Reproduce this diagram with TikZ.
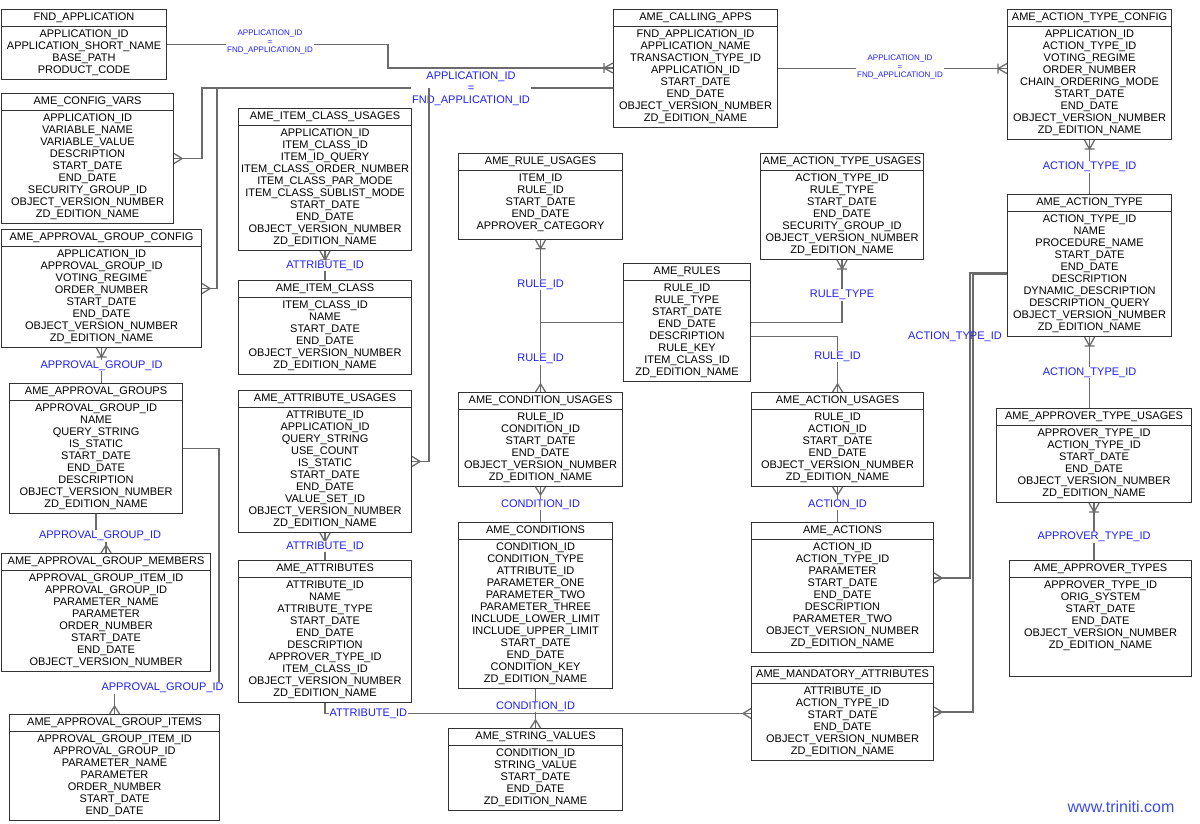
\documentclass[tikz,border=0pt]{standalone}
\usepackage{fontspec}
\setmainfont{Liberation Sans}
\usepackage{xcolor}
\usepackage{tikz}
\usetikzlibrary{arrows.meta, shapes.multipart}
\definecolor{boxline}  {HTML}{333333}
\definecolor{linkgray} {HTML}{6B6B6B}
\definecolor{fkblue}   {HTML}{1F1FF5}
\definecolor{urlblue}  {HTML}{3A4CF2}
\newcommand{\tblfont}{\fontsize{11}{12}\selectfont}
\newcommand{\eqfont}{\fontsize{8}{8.7}\selectfont}
\hyphenpenalty=10000

% crow's foot (many) and crow's foot with bar (one or many)
\pgfdeclarearrow{
  name = Crow,
  parameters = {\the\pgfarrowlength,\the\pgfarrowwidth},
  setup code = {
    \pgfarrowssettipend{0pt}
    \pgfarrowssetlineend{0pt}
    \pgfarrowssetbackend{-\pgfarrowlength}
    \pgfarrowshullpoint{0pt}{.5\pgfarrowwidth}
    \pgfarrowshullpoint{0pt}{-.5\pgfarrowwidth}
    \pgfarrowshullpoint{-\pgfarrowlength}{0pt}
    \pgfarrowssavethe\pgfarrowlength
    \pgfarrowssavethe\pgfarrowwidth
  },
  drawing code = {
    \pgfsetdash{}{0pt}
    \pgfpathmoveto{\pgfpoint{0pt}{.5\pgfarrowwidth}}
    \pgfpathlineto{\pgfpoint{-\pgfarrowlength}{0pt}}
    \pgfpathlineto{\pgfpoint{0pt}{-.5\pgfarrowwidth}}
    \pgfusepathqstroke
  },
  defaults = {length = 8pt, width = 10pt}
}
\pgfdeclarearrow{
  name = CrowBar,
  parameters = {\the\pgfarrowlength,\the\pgfarrowwidth},
  setup code = {
    \pgfarrowssettipend{0pt}
    \pgfarrowssetlineend{0pt}
    \pgfarrowssetbackend{-\pgfarrowlength}
    \pgfarrowshullpoint{0pt}{.5\pgfarrowwidth}
    \pgfarrowshullpoint{0pt}{-.5\pgfarrowwidth}
    \pgfarrowshullpoint{-\pgfarrowlength}{.5\pgfarrowwidth}
    \pgfarrowshullpoint{-\pgfarrowlength}{-.5\pgfarrowwidth}
    \pgfarrowssavethe\pgfarrowlength
    \pgfarrowssavethe\pgfarrowwidth
  },
  drawing code = {
    \pgfsetdash{}{0pt}
    \pgfpathmoveto{\pgfpoint{0pt}{.5\pgfarrowwidth}}
    \pgfpathlineto{\pgfpoint{-\pgfarrowlength}{0pt}}
    \pgfpathlineto{\pgfpoint{0pt}{-.5\pgfarrowwidth}}
    \pgfpathmoveto{\pgfpoint{-\pgfarrowlength}{.5\pgfarrowwidth}}
    \pgfpathlineto{\pgfpoint{-\pgfarrowlength}{-.5\pgfarrowwidth}}
    \pgfusepathqstroke
  },
  defaults = {length = 8pt, width = 10pt}
}

\begin{document}
\begin{tikzpicture}[
    x=1pt, y=-1pt,
    entity/.style={rectangle split, rectangle split parts=2, draw=boxline,
                   line width=1.1pt, anchor=north west, align=center,
                   inner xsep=0pt, inner ysep=3pt, font=\tblfont, text=black},
    conn/.style={draw=linkgray, line width=1.3pt},
    tomany/.style={conn, -{Crow[length=8pt, width=10pt]}},
    tomanybar/.style={conn, -{CrowBar[length=9pt, width=10pt]}},
    fk/.style={text=fkblue, fill=white, inner sep=1pt, font=\tblfont},
    appeq/.style={text=fkblue, fill=white, align=center, inner sep=1pt,
                  font=\eqfont},
  ]
    \useasboundingbox (0,0) rectangle (1200,823);

    % Left column
    \node[entity, text width=165pt] (fndapp) at (1,9)
      {FND\_APPLICATION\nodepart{two}APPLICATION\_ID\\APPLICATION\_SHORT\_NAME\\BASE\_PATH\\PRODUCT\_CODE};
    \node[entity, text width=172pt] (cfgvars) at (1,93)
      {AME\_CONFIG\_VARS\nodepart{two}APPLICATION\_ID\\VARIABLE\_NAME\\VARIABLE\_VALUE\\DESCRIPTION\\START\_DATE\\END\_DATE\\SECURITY\_GROUP\_ID\\OBJECT\_VERSION\_NUMBER\\ZD\_EDITION\_NAME};
    \node[entity, text width=200pt] (agcfg) at (1,229)
      {AME\_APPROVAL\_GROUP\_CONFIG\nodepart{two}APPLICATION\_ID\\APPROVAL\_GROUP\_ID\\VOTING\_REGIME\\ORDER\_NUMBER\\START\_DATE\\END\_DATE\\OBJECT\_VERSION\_NUMBER\\ZD\_EDITION\_NAME};
    \node[entity, text width=173pt] (agroups) at (9,383)
      {AME\_APPROVAL\_GROUPS\nodepart{two}APPROVAL\_GROUP\_ID\\NAME\\QUERY\_STRING\\IS\_STATIC\\START\_DATE\\END\_DATE\\DESCRIPTION\\OBJECT\_VERSION\_NUMBER\\ZD\_EDITION\_NAME};
    \node[entity, text width=209pt] (agmembers) at (1,553)
      {AME\_APPROVAL\_GROUP\_MEMBERS\nodepart{two}APPROVAL\_GROUP\_ITEM\_ID\\APPROVAL\_GROUP\_ID\\PARAMETER\_NAME\\PARAMETER\\ORDER\_NUMBER\\START\_DATE\\END\_DATE\\OBJECT\_VERSION\_NUMBER};
    \node[entity, text width=210pt] (agitems) at (9,714)
      {AME\_APPROVAL\_GROUP\_ITEMS\nodepart{two}APPROVAL\_GROUP\_ITEM\_ID\\APPROVAL\_GROUP\_ID\\PARAMETER\_NAME\\PARAMETER\\ORDER\_NUMBER\\START\_DATE\\END\_DATE};

    % Second column
    \node[entity, text width=173pt] (icusages) at (238,108)
      {AME\_ITEM\_CLASS\_USAGES\nodepart{two}APPLICATION\_ID\\ITEM\_CLASS\_ID\\ITEM\_ID\_QUERY\\ITEM\_CLASS\_ORDER\_NUMBER\\ITEM\_CLASS\_PAR\_MODE\\ITEM\_CLASS\_SUBLIST\_MODE\\START\_DATE\\END\_DATE\\OBJECT\_VERSION\_NUMBER\\ZD\_EDITION\_NAME};
    \node[entity, text width=173pt] (itemclass) at (238,280)
      {AME\_ITEM\_CLASS\nodepart{two}ITEM\_CLASS\_ID\\NAME\\START\_DATE\\END\_DATE\\OBJECT\_VERSION\_NUMBER\\ZD\_EDITION\_NAME};
    \node[entity, text width=173pt] (attrusages) at (238,390)
      {AME\_ATTRIBUTE\_USAGES\nodepart{two}ATTRIBUTE\_ID\\APPLICATION\_ID\\QUERY\_STRING\\USE\_COUNT\\IS\_STATIC\\START\_DATE\\END\_DATE\\VALUE\_SET\_ID\\OBJECT\_VERSION\_NUMBER\\ZD\_EDITION\_NAME};
    \node[entity, text width=173pt] (attrs) at (238,560)
      {AME\_ATTRIBUTES\nodepart{two}ATTRIBUTE\_ID\\NAME\\ATTRIBUTE\_TYPE\\START\_DATE\\END\_DATE\\DESCRIPTION\\APPROVER\_TYPE\_ID\\ITEM\_CLASS\_ID\\OBJECT\_VERSION\_NUMBER\\ZD\_EDITION\_NAME};

    % Middle
    \node[entity, text width=164pt] (callapps) at (613,9)
      {AME\_CALLING\_APPS\nodepart{two}FND\_APPLICATION\_ID\\APPLICATION\_NAME\\TRANSACTION\_TYPE\_ID\\APPLICATION\_ID\\START\_DATE\\END\_DATE\\OBJECT\_VERSION\_NUMBER\\ZD\_EDITION\_NAME};
    \node[entity, text width=164pt] (ruleusages) at (458,153)
      {AME\_RULE\_USAGES\nodepart{two}ITEM\_ID\\RULE\_ID\\START\_DATE\\END\_DATE\\APPROVER\_CATEGORY\\[-6pt]\mbox{}};
    \node[entity, text width=127pt] (rules) at (623,263)
      {AME\_RULES\nodepart{two}RULE\_ID\\RULE\_TYPE\\START\_DATE\\END\_DATE\\DESCRIPTION\\RULE\_KEY\\ITEM\_CLASS\_ID\\ZD\_EDITION\_NAME};
    \node[entity, text width=164pt] (condusages) at (458,392)
      {AME\_CONDITION\_USAGES\nodepart{two}RULE\_ID\\CONDITION\_ID\\START\_DATE\\END\_DATE\\OBJECT\_VERSION\_NUMBER\\ZD\_EDITION\_NAME};
    \node[entity, text width=154pt] (conditions) at (458,522)
      {AME\_CONDITIONS\nodepart{two}CONDITION\_ID\\CONDITION\_TYPE\\ATTRIBUTE\_ID\\PARAMETER\_ONE\\PARAMETER\_TWO\\PARAMETER\_THREE\\INCLUDE\_LOWER\_LIMIT\\INCLUDE\_UPPER\_LIMIT\\START\_DATE\\END\_DATE\\CONDITION\_KEY\\ZD\_EDITION\_NAME};
    \node[entity, text width=174pt] (strvalues) at (448,728)
      {AME\_STRING\_VALUES\nodepart{two}CONDITION\_ID\\STRING\_VALUE\\START\_DATE\\END\_DATE\\ZD\_EDITION\_NAME};

    % Action side
    \node[entity, text width=163pt] (atusages) at (760,153)
      {AME\_ACTION\_TYPE\_USAGES\nodepart{two}ACTION\_TYPE\_ID\\RULE\_TYPE\\START\_DATE\\END\_DATE\\SECURITY\_GROUP\_ID\\OBJECT\_VERSION\_NUMBER\\ZD\_EDITION\_NAME};
    \node[entity, text width=172pt] (actusages) at (751,392)
      {AME\_ACTION\_USAGES\nodepart{two}RULE\_ID\\ACTION\_ID\\START\_DATE\\END\_DATE\\OBJECT\_VERSION\_NUMBER\\ZD\_EDITION\_NAME};
    \node[entity, text width=182pt] (actions) at (751,522)
      {AME\_ACTIONS\nodepart{two}ACTION\_ID\\ACTION\_TYPE\_ID\\PARAMETER\\START\_DATE\\END\_DATE\\DESCRIPTION\\PARAMETER\_TWO\\OBJECT\_VERSION\_NUMBER\\ZD\_EDITION\_NAME};
    \node[entity, text width=182pt] (mandattrs) at (751,666)
      {AME\_MANDATORY\_ATTRIBUTES\nodepart{two}ATTRIBUTE\_ID\\ACTION\_TYPE\_ID\\START\_DATE\\END\_DATE\\OBJECT\_VERSION\_NUMBER\\ZD\_EDITION\_NAME};

    % Right column
    \node[entity, text width=164pt] (atcfg) at (1007,9)
      {AME\_ACTION\_TYPE\_CONFIG\nodepart{two}APPLICATION\_ID\\ACTION\_TYPE\_ID\\VOTING\_REGIME\\ORDER\_NUMBER\\CHAIN\_ORDERING\_MODE\\START\_DATE\\END\_DATE\\OBJECT\_VERSION\_NUMBER\\ZD\_EDITION\_NAME};
    \node[entity, text width=164pt] (actiontype) at (1007,194)
      {AME\_ACTION\_TYPE\nodepart{two}ACTION\_TYPE\_ID\\NAME\\PROCEDURE\_NAME\\START\_DATE\\END\_DATE\\DESCRIPTION\\DYNAMIC\_DESCRIPTION\\DESCRIPTION\_QUERY\\OBJECT\_VERSION\_NUMBER\\ZD\_EDITION\_NAME};
    \node[entity, text width=195pt] (aptusages) at (996,408)
      {AME\_APPROVER\_TYPE\_USAGES\nodepart{two}APPROVER\_TYPE\_ID\\ACTION\_TYPE\_ID\\START\_DATE\\END\_DATE\\OBJECT\_VERSION\_NUMBER\\ZD\_EDITION\_NAME};
    \node[entity, text width=182pt] (aptypes) at (1009,560)
      {AME\_APPROVER\_TYPES\nodepart{two}APPROVER\_TYPE\_ID\\ORIG\_SYSTEM\\START\_DATE\\END\_DATE\\OBJECT\_VERSION\_NUMBER\\ZD\_EDITION\_NAME\\\mbox{}\\\mbox{}};

    % Bends and bus points
    \coordinate (fndbend) at (388,68);
    \coordinate (bus1) at (202,88);
    \coordinate (bus2) at (217,88);
    \coordinate (bus3) at (429,88);
    \coordinate (agbend) at (219,688);
    \coordinate (atleft) at (actiontype.west |- 0,273);
    \coordinate (atbus1) at (970,578);
    \coordinate (atbus2) at (973,712);

    % Application links
    \draw[tomanybar] (fndapp.east) -| (fndbend) -- (callapps.west |- fndbend);
    \node[appeq] (eqfnd) at (270,42) {APPLICATION\_ID\\=\\FND\_APPLICATION\_ID};
    \draw[tomanybar] (callapps.east) -- (callapps.east -| atcfg.west);
    \node[appeq] (eqcfg) at (900,67) {APPLICATION\_ID\\=\\FND\_APPLICATION\_ID};
    \draw[tomany] (callapps.west |- bus1) -- (bus1) |- (cfgvars.east);
    \node[fk, align=center] (eqbus) at (471,89) {APPLICATION\_ID\\=\\FND\_APPLICATION\_ID};
    \draw[tomany] (bus2) |- (agcfg.east);
    \draw[tomany] (bus3) |- (attrusages.east);

    % Item classes and attributes
    \draw[tomanybar] (itemclass.north) -- node[fk] {ATTRIBUTE\_ID} (icusages.south);
    \draw[tomanybar] (attrs.north) -- node[fk] {ATTRIBUTE\_ID} (attrusages.south);

    % Approval groups
    \draw[tomanybar] (agroups.north -| agcfg.south) -- node[fk] {APPROVAL\_GROUP\_ID} (agcfg.south);
    \draw[tomany] (agroups.south) -- ++(0,22) -| node[fk, pos=0.2] {APPROVAL\_GROUP\_ID} (agmembers.north);
    \draw[tomany] (agroups.east) -| (agbend) -| node[fk, pos=0.27] {APPROVAL\_GROUP\_ID} (agitems.north);

    % Rules
    \draw[tomanybar] (rules.west) -| node[fk, pos=0.73] {RULE\_ID} (ruleusages.south);
    \draw[tomany] (rules.west) -| node[fk, pos=0.76] {RULE\_ID} (condusages.north);
    \draw[tomanybar] (rules.east) -| node[fk, pos=0.72] {RULE\_TYPE} (atusages.south);
    \draw[tomany] ([yshift=-14pt]rules.east) -| node[fk, pos=0.68] {RULE\_ID} (actusages.north);
    \draw[tomany] (actions.north -| actusages.south) -- node[fk] {ACTION\_ID} (actusages.south);
    \draw[tomany] (conditions.north -| condusages.south) -- node[fk] {CONDITION\_ID} (condusages.south);
    \draw[tomany] (conditions.south) -- node[fk, inner ysep=0pt, pos=0.45] {CONDITION\_ID} (strvalues.north);
    \draw[tomany] (attrs.south) |- node[fk, pos=0.5, anchor=west, xshift=3pt] {ATTRIBUTE\_ID} (mandattrs.west);

    % Action types
    \draw[tomanybar] (actiontype.north) -- node[fk] {ACTION\_TYPE\_ID} (atcfg.south);
    \draw[tomanybar] (aptusages.north -| actiontype.south) -- node[fk] {ACTION\_TYPE\_ID} (actiontype.south);
    \draw[tomanybar] (aptypes.north -| aptusages.south) -- node[fk, pos=0.4] {APPROVER\_TYPE\_ID} (aptusages.south);
    \draw[tomany] (atleft) -| (atbus1) -- (actions.east |- atbus1);
    \draw[tomany] ([yshift=-1.5pt]atleft) -| (atbus2) -- (mandattrs.east |- atbus2);
    \node[fk, fill=none] (atlabel) at (955,337) {ACTION\_TYPE\_ID};

    \node[text=urlblue, font=\fontsize{16}{18}\selectfont] (site) at (1121,807) {www.triniti.com};
\end{tikzpicture}
\end{document}
